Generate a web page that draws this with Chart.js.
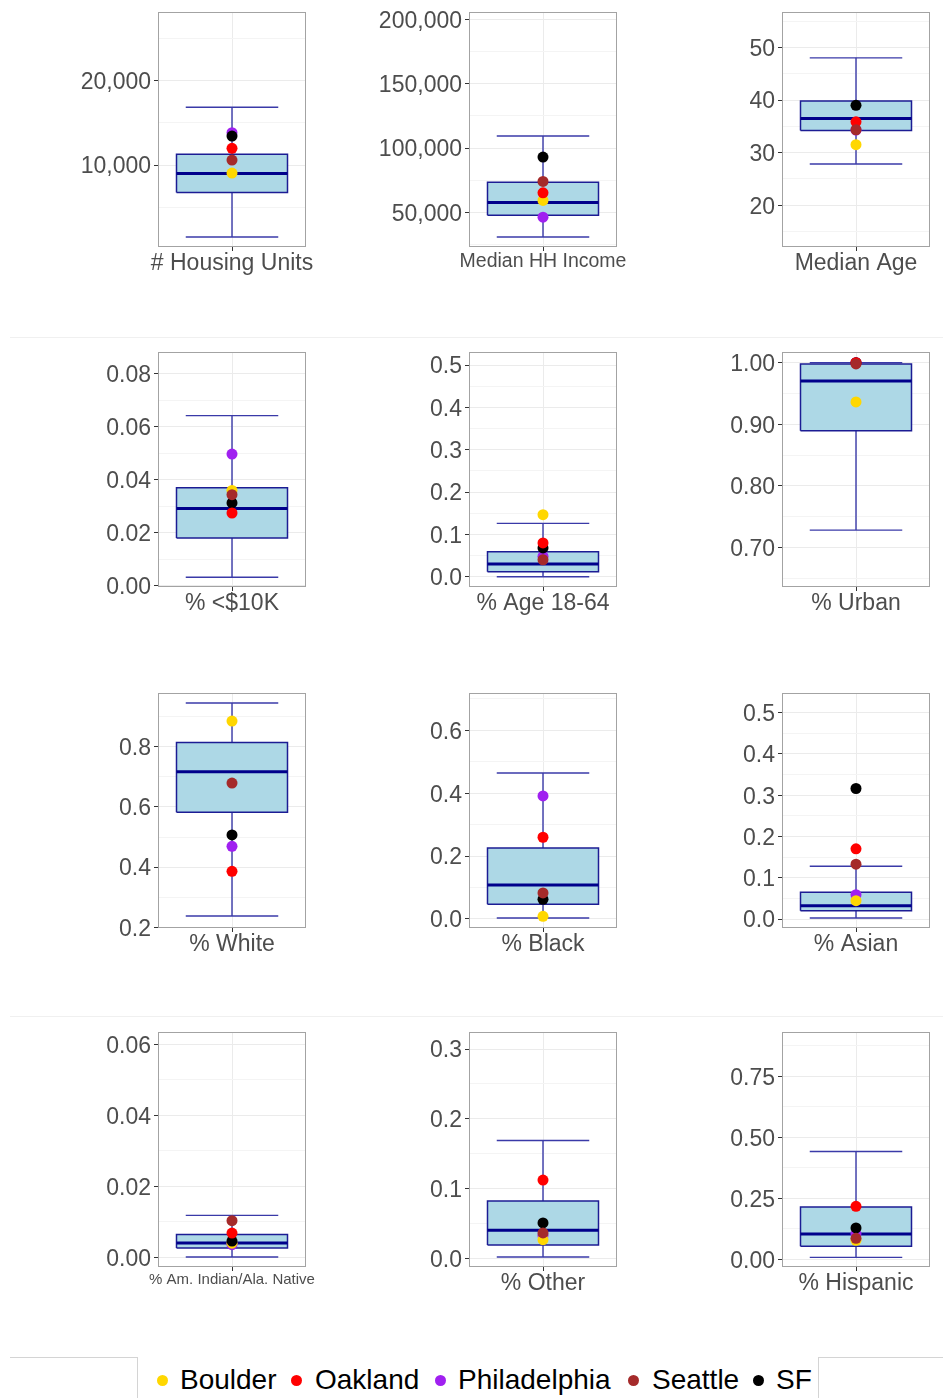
<!DOCTYPE html>
<html>
<head>
<meta charset="utf-8">
<script src="https://cdn.jsdelivr.net/npm/chart.js@4.4.1/dist/chart.umd.min.js"></script>
<style>
  html, body { margin: 0; padding: 0; background: #ffffff; overflow: hidden; }
  body { width: 943px; height: 1398px; position: relative; font-family: "Liberation Sans", Arial, sans-serif; }
  canvas { position: absolute; }
  .rule { position: absolute; background: #f0f0f0; }
  .frame { position: absolute; background: #d4d4d4; }
  .key { position: absolute; top: 1362px; height: 36px; line-height: 36px; font-size: 28px; color: #000; white-space: nowrap; }
  .dot { position: absolute; top: 1374.5px; width: 11px; height: 11px; border-radius: 50%; }
</style>
</head>
<body>
<script>
// Variable names (one small multiple each), reading order left-to-right, top-to-bottom
const titles = ['# Housing Units', 'Median HH Income', 'Median Age',
                '% <$10K', '% Age 18-64', '% Urban',
                '% White', '% Black', '% Asian',
                '% Am. Indian/Ala. Native', '% Other', '% Hispanic'];

// y-axis ranges and labelled ticks
const yMin = [274, 22890, 12.04, -0.0004, -0.0244, 0.6358, 0.198, -0.0287, -0.0218, -0.0027, -0.0123, -0.0312];
const yMax = [28180, 206016, 56.75, 0.0882, 0.531, 1.0173, 0.978, 0.719, 0.5476, 0.0635, 0.3244, 0.932];
const yTicks = [[10000, 20000], [50000, 100000, 150000, 200000], [20, 30, 40, 50],
                [0, 0.02, 0.04, 0.06, 0.08], [0, 0.1, 0.2, 0.3, 0.4, 0.5], [0.7, 0.8, 0.9, 1.0],
                [0.2, 0.4, 0.6, 0.8], [0, 0.2, 0.4, 0.6], [0, 0.1, 0.2, 0.3, 0.4, 0.5],
                [0, 0.02, 0.04, 0.06], [0, 0.1, 0.2, 0.3], [0, 0.25, 0.5, 0.75]];
const tickDigits = [0, 0, 0, 2, 1, 2, 1, 1, 1, 2, 1, 2];

// Box-plot summaries across all places
const whiskerLow  = [1464, 30703, 27.84, 0.0033, 0.0, 0.7282, 0.238, 0.003, 0.0024, 0.0001, 0.002, 0.0082];
const boxQ1       = [6750, 47656, 34.2, 0.0181, 0.0118, 0.8896, 0.582, 0.0465, 0.020, 0.00265, 0.0192, 0.0534];
const boxMedian   = [9012, 57578, 36.5, 0.0292, 0.030, 0.9703, 0.717, 0.1083, 0.0323, 0.00406, 0.0402, 0.1043];
const boxQ3       = [11274, 73437, 39.8, 0.037, 0.0591, 0.998, 0.814, 0.2255, 0.0646, 0.00648, 0.0822, 0.215];
const whiskerHigh = [16870, 109375, 48.03, 0.0642, 0.126, 1.0, 0.945, 0.4647, 0.128, 0.01183, 0.1689, 0.4425];

// Highlighted cities
const cities = ['Boulder', 'Oakland', 'Philadelphia', 'Seattle', 'SF'];
const cityColors = ['#FFD700', '#FF0000', '#A020F0', '#A52A2A', '#000000'];
const boulder      = [9048, 59140, 31.5, 0.036, 0.1466, 0.9362, 0.885, 0.0083, 0.0444, 0.0040, 0.0268, 0.078];
const oakland      = [11988, 65078, 35.86, 0.0275, 0.0797, 1.0, 0.386, 0.26, 0.170, 0.00687, 0.1123, 0.2176];
const philadelphia = [13845, 46094, 34.3, 0.0497, 0.048, 1.0, 0.469, 0.3915, 0.059, 0.0036, 0.033, 0.105];
const seattle      = [10595, 73984, 34.35, 0.0344, 0.040, 0.998, 0.679, 0.0828, 0.1328, 0.01034, 0.0365, 0.0862];
const sf           = [13452, 92969, 38.99, 0.0313, 0.068, 1.0, 0.507, 0.0624, 0.3162, 0.00462, 0.0508, 0.1289];
const cityValues = { Boulder: boulder, Oakland: oakland, Philadelphia: philadelphia, Seattle: seattle, SF: sf };
// points are stacked bottom-to-top in this order
const stackOrder = ['Philadelphia', 'Boulder', 'SF', 'Oakland', 'Seattle'];

// ---- layout & style ----
const titleSizes = [23, 19.5, 23, 23, 23, 23, 23, 23, 23, 15, 23, 23];
const PANEL_LEFT = [158, 469, 782], PANEL_TOP = [12, 352, 693, 1032];
const PANEL_W = 148, PANEL_H = 235;
const AXIS_W = 150, AXIS_H = 60, PAD_T = 10, PAD_R = 30;
const BOX_HALF = 0.45, CAP_HALF = 0.375;
const TEXT_GREY = '#4d4d4d', GRID_MAJOR = '#ebebeb', GRID_MINOR = '#f4f4f4';
const BOX_FILL = '#ADD8E6', BOX_EDGE = '#1c1c94', MEDIAN_COL = '#00008b', WHISKER_COL = '#3a3aa8';

Chart.defaults.font.family = '"Liberation Sans", Arial, sans-serif';

const panelFrame = {
  id: 'panelFrame',
  afterDatasetsDraw(chart) {
    const { ctx, chartArea: a } = chart;
    ctx.save();
    ctx.strokeStyle = '#a3a3a3';
    ctx.lineWidth = 1;
    ctx.strokeRect(Math.round(a.left) + 0.5, Math.round(a.top) + 0.5,
                   Math.round(a.right - a.left) - 1, Math.round(a.bottom - a.top) - 1);
    ctx.restore();
  }
};

function fmt(v, d) {
  return d === 0 ? Math.round(v).toLocaleString('en-US') : v.toFixed(d);
}

function tickList(i) {
  const major = yTicks[i];
  const step = major[1] - major[0];
  const out = major.map(v => ({ value: v, minor: false }));
  const cand = [major[0] - step / 2, major[major.length - 1] + step / 2];
  for (let k = 0; k < major.length - 1; k++) cand.push((major[k] + major[k + 1]) / 2);
  cand.forEach(v => { if (v > yMin[i] && v < yMax[i]) out.push({ value: v, minor: true }); });
  out.sort((a, b) => a.value - b.value);
  return out;
}

function seg(data, color, width, extra) {
  return Object.assign({ type: 'line', xAxisID: 'xl', yAxisID: 'y', data,
    borderColor: color, borderWidth: width, pointRadius: 0, fill: false, tension: 0 }, extra || {});
}

titles.forEach((title, i) => {
  const r = Math.floor(i / 3), c = i % 3;
  const cv = document.createElement('canvas');
  const W = AXIS_W + PANEL_W + PAD_R, H = PAD_T + PANEL_H + AXIS_H;
  cv.width = W; cv.height = H;
  cv.style.left = (PANEL_LEFT[c] - AXIS_W) + 'px';
  cv.style.top = (PANEL_TOP[r] - PAD_T) + 'px';
  cv.style.width = W + 'px'; cv.style.height = H + 'px';
  document.body.appendChild(cv);

  const lo = whiskerLow[i], q1 = boxQ1[i], md = boxMedian[i], q3 = boxQ3[i], hi = whiskerHigh[i];

  // first dataset is painted on top, last at the bottom
  const datasets = [];
  stackOrder.slice().reverse().forEach(name => {
    const k = cities.indexOf(name);
    datasets.push({ type: 'line', xAxisID: 'xl', yAxisID: 'y', label: name, showLine: false,
      data: [{ x: 0, y: cityValues[name][i] }],
      pointRadius: 5.5, pointHoverRadius: 5.5, pointBorderWidth: 0,
      pointBackgroundColor: cityColors[k], borderColor: cityColors[k] });
  });
  datasets.push(seg([{ x: -BOX_HALF, y: md }, { x: BOX_HALF, y: md }], MEDIAN_COL, 3));
  datasets.push(seg([{ x: -BOX_HALF, y: q1 }, { x: BOX_HALF, y: q1 }, { x: BOX_HALF, y: q3 },
                     { x: -BOX_HALF, y: q3 }, { x: -BOX_HALF, y: q1 }], BOX_EDGE, 1.5));
  datasets.push(seg([{ x: -BOX_HALF, y: q3 }, { x: BOX_HALF, y: q3 }], 'rgba(0,0,0,0)', 0,
                    { fill: { target: { value: q1 } }, backgroundColor: BOX_FILL }));
  datasets.push(seg([{ x: -CAP_HALF, y: hi }, { x: CAP_HALF, y: hi }], WHISKER_COL, 1.4));
  datasets.push(seg([{ x: -CAP_HALF, y: lo }, { x: CAP_HALF, y: lo }], WHISKER_COL, 1.4));
  datasets.push(seg([{ x: 0, y: lo }, { x: 0, y: hi }], WHISKER_COL, 1.4));

  const ticksForPanel = tickList(i);

  new Chart(cv, {
    type: 'line',
    data: { datasets },
    plugins: [panelFrame],
    options: {
      responsive: false,
      animation: false,
      events: [],
      layout: { padding: { top: PAD_T, right: PAD_R, left: 0, bottom: 0 } },
      plugins: { legend: { display: false }, tooltip: { enabled: false } },
      scales: {
        x: {
          type: 'category', labels: [title], offset: true, position: 'bottom',
          afterFit(s) { s.height = AXIS_H; s.paddingLeft = 0; s.paddingRight = 0; },
          grid: { offset: false, color: GRID_MAJOR, lineWidth: 1, tickLength: 4, tickColor: '#333333' },
          border: { display: false },
          ticks: { autoSkip: false, maxRotation: 0, minRotation: 0, padding: 1, color: TEXT_GREY,
                   font: { size: titleSizes[i], lineHeight: 1 } }
        },
        xl: { type: 'linear', min: -0.6, max: 0.6, display: false },
        y: {
          type: 'linear', min: yMin[i], max: yMax[i], bounds: 'data',
          afterFit(s) { s.width = AXIS_W; s.paddingTop = 0; s.paddingBottom = 0; },
          afterBuildTicks(s) { s.ticks = ticksForPanel.map(t => ({ value: t.value, minor: t.minor })); },
          grid: {
            color: ctx => (ctx.tick && ctx.tick.minor) ? GRID_MINOR : GRID_MAJOR,
            tickColor: ctx => (ctx.tick && ctx.tick.minor) ? 'rgba(0,0,0,0)' : '#333333',
            lineWidth: 1, tickLength: 4
          },
          border: { display: false },
          ticks: {
            autoSkip: false, padding: 3, labelOffset: 2, color: TEXT_GREY, font: { size: 23 },
            callback: (v, idx, arr) => (arr[idx] && arr[idx].minor) ? '' : fmt(v, tickDigits[i])
          }
        }
      }
    }
  });
});

// faint row separators and legend frame
function rect(cls, x, y, w, h) {
  const d = document.createElement('div');
  d.className = cls;
  Object.assign(d.style, { left: x + 'px', top: y + 'px', width: w + 'px', height: h + 'px' });
  document.body.appendChild(d);
}
rect('rule', 10, 337, 933, 1);
rect('rule', 10, 1016, 933, 1);
rect('frame', 10, 1357, 128, 1);
rect('frame', 137, 1357, 1, 41);
rect('frame', 818, 1357, 1, 41);
rect('frame', 818, 1357, 125, 1);

// legend
const keyDotX = [162, 296, 440, 633, 758];
const keyTextX = [180, 315, 458, 652, 776];
cities.forEach((name, k) => {
  const dot = document.createElement('div');
  dot.className = 'dot';
  dot.style.left = (keyDotX[k] - 5.5) + 'px';
  dot.style.background = cityColors[k];
  document.body.appendChild(dot);
  const t = document.createElement('div');
  t.className = 'key';
  t.style.left = keyTextX[k] + 'px';
  t.textContent = name;
  document.body.appendChild(t);
});
</script>
</body>
</html>
